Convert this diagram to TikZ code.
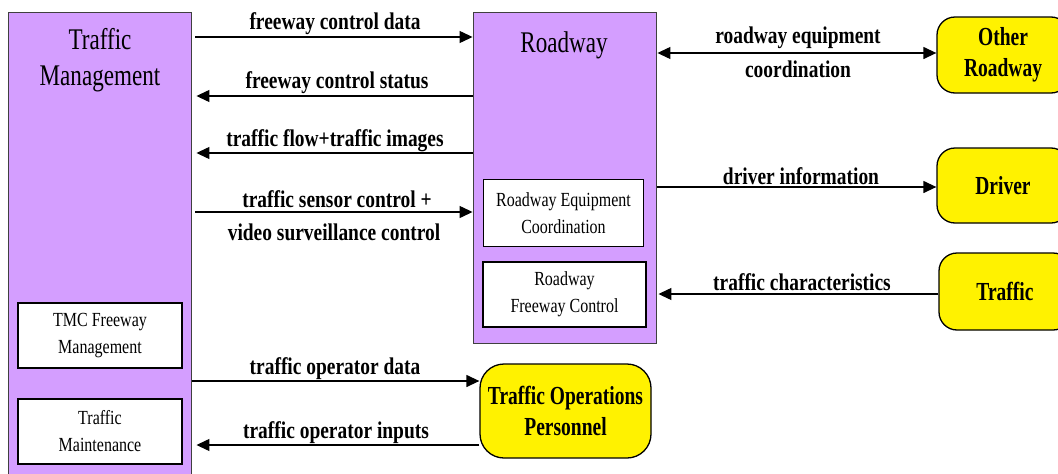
\documentclass[tikz,border=0pt]{standalone}
\usepackage{fontspec}
\setmainfont{Liberation Serif}
\newfontfamily\titlefont[FakeStretch=0.77]{Liberation Serif}
\newfontfamily\innerfont[FakeStretch=0.8]{Liberation Serif}
\newfontfamily\yelfont[FakeStretch=0.75]{Liberation Serif}
\newfontfamily\lblfont[FakeStretch=0.81]{Liberation Serif}
\usetikzlibrary{arrows.meta}
\definecolor{purp}{RGB}{212,158,255}
\begin{document}
\begin{tikzpicture}[x=1pt,y=-1pt,
 sysbox/.style={draw=black!75, line width=0.9pt, fill=purp, inner sep=0pt},
 subbox/.style={draw=black, line width=1.3pt, fill=white, inner sep=0pt, align=center, font=\innerfont\fontsize{20}{27}\selectfont},
 termbox/.style={draw=black, line width=1.3pt, fill=yellow, rounded corners=18pt, inner sep=0pt, align=center, font=\yelfont\bfseries\fontsize{26}{31}\selectfont},
 title/.style={font=\titlefont\fontsize{30}{36}\selectfont, align=center, inner sep=0pt},
 lbl/.style={font=\lblfont\bfseries\fontsize{24}{28}\selectfont, inner sep=0pt},
 flow/.style={line width=1.3pt, -{Triangle[length=13pt,width=12pt]}},
 biflow/.style={line width=1.3pt, {Triangle[length=13pt,width=12pt]}-{Triangle[length=13pt,width=12pt]}}]

\fill[white] (0,0) rectangle (1058,474);
\clip (0,0) rectangle (1058,474);

% systems
\node[sysbox, minimum width=183pt, minimum height=480pt] (tm) at (99.5,252) {};
\node[title] (tmt) at (100,60) {Traffic\\Management};
\node[sysbox, minimum width=183pt, minimum height=331pt] (rw) at (564.5,177.5) {};
\node[title] (rwt) at (564,45) {Roadway};

\node[subbox, minimum width=160pt, minimum height=67pt] (rec) at (563.5,213) {Roadway Equipment\\Coordination};
\node[subbox, minimum width=163pt, minimum height=65pt] (rfc) at (564.5,294.5) {Roadway\\Freeway Control};
\node[subbox, minimum width=164pt, minimum height=65pt] (tmc) at (100,335.5) {TMC Freeway\\Management};
\node[subbox, minimum width=164pt, minimum height=65pt] (tmain) at (100,431.5) {Traffic\\Maintenance};

% terminators
\node[termbox, minimum width=132pt, minimum height=76pt] (other) at (1003,55) {Other\\Roadway};
\node[termbox, minimum width=132pt, minimum height=75pt] (driver) at (1003,185.5) {Driver};
\node[termbox, minimum width=132pt, minimum height=77pt] (traffic) at (1005,291.5) {Traffic};
\node[termbox, minimum width=171pt, minimum height=94pt, rounded corners=24pt] (top) at (565.5,411) {Traffic Operations\\Personnel};

% flows TM <-> Roadway
\draw[flow, shorten <=4pt] (tm.east |- 0,37) -- (rw.west |- 0,37);
\node[lbl] (l1) at (335,24) {freeway control data};
\draw[flow, shorten >=5pt] (rw.west |- 0,96) -- (tm.east |- 0,96);
\node[lbl] (l2) at (337,83) {freeway control status};
\draw[flow, shorten >=5pt] (rw.west |- 0,153) -- (tm.east |- 0,153);
\node[lbl] (l3) at (335,141) {traffic flow+traffic images};
\draw[flow, shorten <=4pt] (tm.east |- 0,212) -- (rw.west |- 0,212);
\node[lbl] (l4a) at (337,199) {traffic sensor control +};
\node[lbl] (l4b) at (334,232) {video surveillance control};

% flows TM <-> TOP
\draw[flow, shorten <=1pt] (tm.east |- 0,381) -- (top.west |- 0,381);
\node[lbl] (l5) at (335,369) {traffic operator data};
\draw[flow, shorten >=5pt] (top.west |- 0,445) -- (tm.east |- 0,445);
\node[lbl] (l6) at (336,433) {traffic operator inputs};

% flows Roadway <-> terminators
\draw[biflow, shorten <=1pt] (rw.east |- 0,53) -- (other.west |- 0,53);
\node[lbl] (l7a) at (798,38) {roadway equipment};
\node[lbl] (l7b) at (798,69) {coordination};
\draw[flow, shorten <=1pt] (rw.east |- 0,187) -- (driver.west |- 0,187);
\node[lbl] (l8) at (801,176) {driver information};
\draw[flow, shorten >=2pt] (traffic.west |- 0,294) -- (rw.east |- 0,294);
\node[lbl] (l9) at (802,282) {traffic characteristics};
\end{tikzpicture}
\end{document}
